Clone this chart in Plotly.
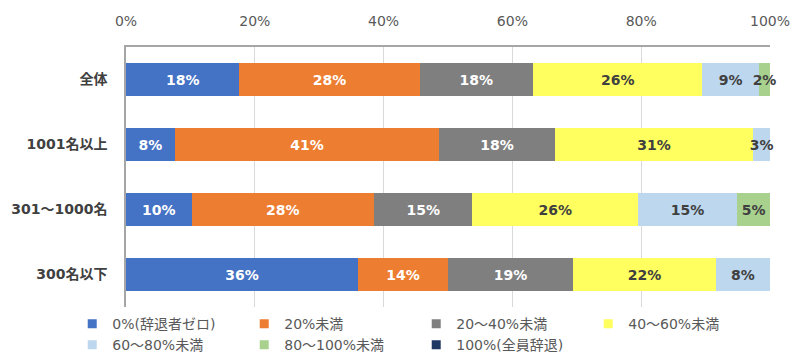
import plotly.graph_objects as go

categories = ["全体", "1001名以上", "301～1000名", "300名以下"]
series_names = ["0%(辞退者ゼロ)", "20%未満", "20～40%未満", "40～60%未満",
                "60～80%未満", "80～100%未満", "100%(全員辞退)"]
values = {
    "0%(辞退者ゼロ)": [17.6, 7.6, 10.2, 36.0],
    "20%未満": [28.0, 41.0, 28.3, 14.0],
    "20～40%未満": [17.6, 18.0, 15.3, 19.4],
    "40～60%未満": [26.3, 30.8, 25.7, 22.2],
    "60～80%未満": [8.8, 2.6, 15.4, 8.4],
    "80～100%未満": [1.7, 0.0, 5.1, 0.0],
    "100%(全員辞退)": [0.0, 0.0, 0.0, 0.0],
}
colors = ["#4472C4", "#ED7D31", "#7F7F7F", "#FFFF5F", "#BDD7EE", "#A9D18E", "#203864"]
text_colors = ["#FFFFFF", "#FFFFFF", "#FFFFFF", "#404040", "#404040", "#404040", "#FFFFFF"]
tick_vals = [0, 20, 40, 60, 80, 100]
tick_text = ["0%", "20%", "40%", "60%", "80%", "100%"]

FONT = "DejaVu Sans, Noto Sans CJK JP"
fig = go.Figure()
for name, col, tcol in zip(series_names, colors, text_colors):
    vals = values[name]
    txt = [f"{round(v)}%" if v > 0 else "" for v in vals]
    fig.add_trace(go.Bar(
        y=categories, x=vals, name=name, orientation="h",
        marker=dict(color=col, line=dict(width=0)),
        text=txt, textposition="inside", insidetextanchor="middle",
        constraintext="none", textangle=0, cliponaxis=False,
        textfont=dict(color=tcol, size=14, family=FONT, weight="bold"),
        showlegend=False, hoverinfo="skip",
    ))
    fig.add_trace(go.Scatter(
        x=[None], y=[None], mode="markers", name=name,
        marker=dict(symbol="square", size=9, color=col),
        showlegend=True,
    ))

fig.update_layout(
    barmode="stack",
    bargap=0.48,
    width=800, height=361,
    margin=dict(l=118, r=38, t=39, b=62, autoexpand=False),
    paper_bgcolor="white", plot_bgcolor="white",
    font=dict(family=FONT, color="#595959"),
    xaxis=dict(
        side="top", range=[0, 100.001], tickvals=tick_vals, ticktext=tick_text,
        showgrid=True, gridcolor="#D9D9D9", gridwidth=1,
        showline=True, linecolor="#A6A6A6", linewidth=1.5,
        zeroline=False, ticks="", ticklabelstandoff=14,
        tickfont=dict(size=14, color="#595959", family=FONT),
        fixedrange=True,
    ),
    yaxis=dict(
        categoryorder="array", categoryarray=categories, autorange="reversed",
        showline=True, linecolor="#A6A6A6", linewidth=1.5,
        showgrid=False, ticks="", ticklabelstandoff=14,
        tickfont=dict(size=14, color="#404040", family=FONT, weight="bold"),
    ),
    legend=dict(
        orientation="h", x=-0.0835, xanchor="left", y=-0.004, yanchor="top",
        entrywidth=127, entrywidthmode="pixels", traceorder="normal",
        font=dict(size=14, color="#595959", family=FONT),
        itemclick=False, tracegroupgap=0,
    ),
)

fig.write_html("out.html")
